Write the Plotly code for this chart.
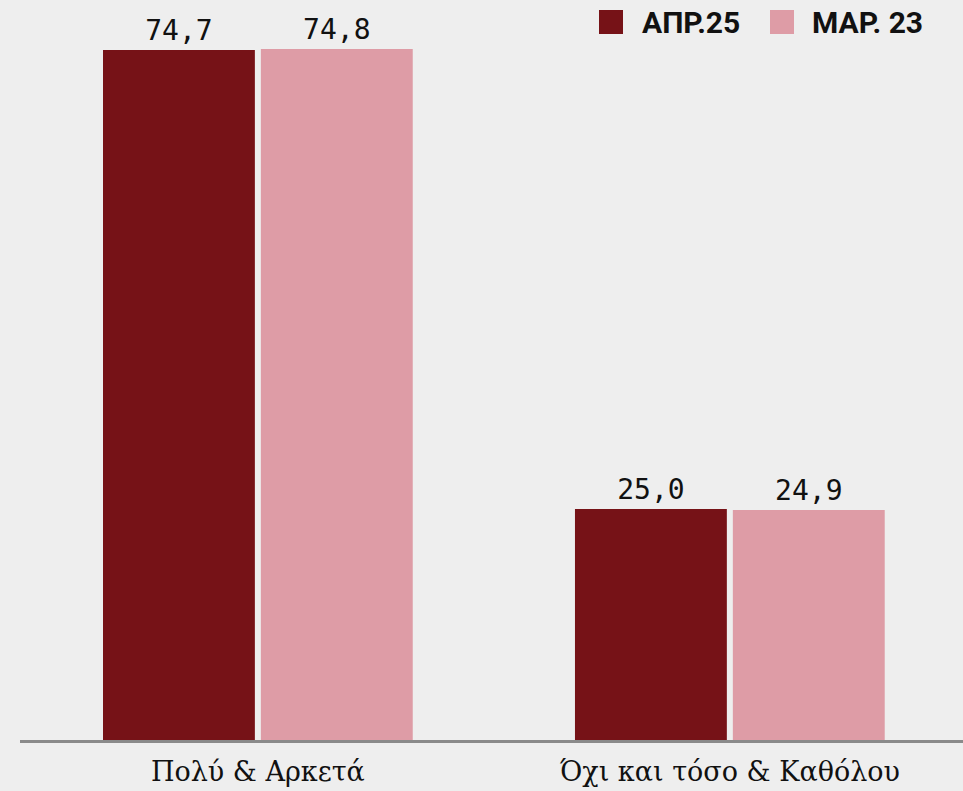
import plotly.graph_objects as go

categories = ["Πολύ & Αρκετά", "Όχι και τόσο & Καθόλου"]
series_names = ["АПР.25", "МАР. 23"]
apr25 = [74.7, 25.0]
mar23 = [74.8, 24.9]
colors = ["#761217", "#de9ca6"]

W, H = 963, 791
ML, MR, MT, MB = 20, 0, 0, 51
PW, PH = W - ML - MR, H - MT - MB


def fmt(v):
    return f"{v:.1f}".replace(".", ",")


fig = go.Figure()
for name, vals, col in zip(series_names, [apr25, mar23], colors):
    fig.add_trace(go.Bar(
        x=categories, y=vals, name=name, marker_color=col,
        marker_line_width=0,
        text=[fmt(v) for v in vals], textposition="outside",
        textfont=dict(family="DejaVu Sans Mono", size=28, color="#111111"),
        cliponaxis=False, showlegend=False,
    ))


# manual legend (px positions converted to paper coords)
def px_x(p):
    return (p - ML) / PW


def px_y(p):
    return (H - MB - p) / PH


legend_items = [(599, 642), (770, 812)]
for (sx, tx), name, col in zip(legend_items, series_names, colors):
    fig.add_shape(type="rect", xref="paper", yref="paper",
                  x0=px_x(sx), x1=px_x(sx + 24), y0=px_y(34), y1=px_y(10),
                  fillcolor=col, line_width=0)
    fig.add_annotation(xref="paper", yref="paper", x=px_x(tx - 2), y=px_y(22),
                       xanchor="left", yanchor="middle", text=f"<b>{name}</b>",
                       showarrow=False,
                       font=dict(family="Roboto", size=30, color="#111111"))

fig.update_layout(
    width=W, height=H,
    margin=dict(l=ML, r=MR, t=MT, b=MB, pad=0),
    paper_bgcolor="#eeeeee", plot_bgcolor="#eeeeee",
    barmode="group", bargap=0.331, bargroupgap=0.038,
    showlegend=False,
    xaxis=dict(range=[-0.504, 1.494], showline=True, linecolor="#8a8a8a",
               linewidth=3, ticks="", showgrid=False, ticklabelstandoff=6,
               tickfont=dict(family="DejaVu Serif", size=27,
                             color="#111111")),
    yaxis=dict(range=[0, 80.1], visible=False, showgrid=False, zeroline=False),
)

fig.write_html("out.html",
               config={"displayModeBar": False},
               post_script="document.body.style.margin='0px';")
